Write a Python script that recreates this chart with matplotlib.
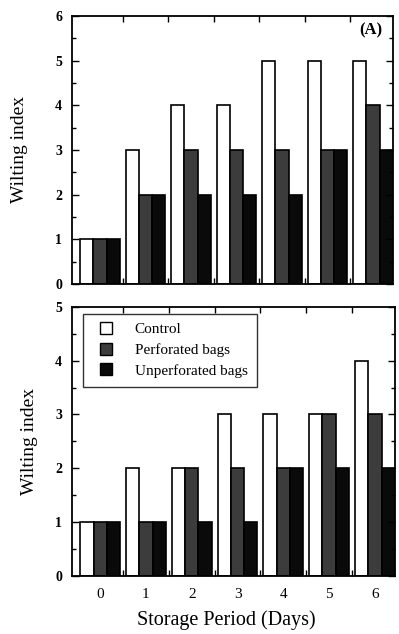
import numpy as np
import matplotlib
matplotlib.use('Agg')
import matplotlib.pyplot as plt
from matplotlib.lines import Line2D

plt.rcParams['font.family'] = ['Liberation Serif', 'DejaVu Serif']

days = [0, 1, 2, 3, 4, 5, 6]
labels = ['Control', 'Perforated bags', 'Unperforated bags']

# panel A
ctrl_a = [1, 3, 4, 4, 5, 5, 5]
perf_a = [1, 2, 3, 3, 3, 3, 4]
unperf_a = [1, 2, 2, 2, 2, 3, 3]

# panel B
ctrl_b = [1, 2, 2, 3, 3, 3, 4]
perf_b = [1, 1, 2, 2, 2, 3, 3]
unperf_b = [1, 1, 1, 1, 2, 2, 2]

colors = ['white', '#3c3c3c', '#0a0a0a']
w = 0.29
x = np.array(days)

fig = plt.figure(figsize=(3.99, 6.34), dpi=100)
ax1 = fig.add_axes([0.180, 0.552, 0.805, 0.423])
ax2 = fig.add_axes([0.180, 0.092, 0.810, 0.424])

def draw(ax, series, ymax):
    for i, s in enumerate(series):
        ax.bar(x + (i - 1) * w, s, w, color=colors[i], edgecolor='black',
               linewidth=1.2, label=labels[i])
    ax.set_xlim(-0.62, 6.44)
    ax.set_ylim(0, ymax)
    ax.set_yticks(range(ymax + 1))
    ax.set_yticks(np.arange(0.5, ymax, 1.0), minor=True)
    # ticks between the day groups, labels at the group centres
    ax.set_xticks(days)
    ax.set_xticks(np.arange(0.5, 6.0, 1.0), minor=True)
    ax.tick_params(axis='x', which='major', length=0, pad=9)
    ax.tick_params(axis='x', which='minor', direction='in', top=True,
                   bottom=True, length=4, width=1)
    ax.tick_params(axis='y', which='both', direction='in', left=True,
                   right=True, width=1, pad=7)
    ax.tick_params(axis='y', which='major', length=5)
    ax.tick_params(axis='y', which='minor', length=3)
    for sp in ax.spines.values():
        sp.set_linewidth(1.3)
    ax.set_ylabel('Wilting index', fontsize=14)
    for t in ax.get_yticklabels():
        t.set_fontweight('bold')
        t.set_fontsize(10)

draw(ax1, [ctrl_a, perf_a, unperf_a], 6)
ax1.set_xticklabels([])
ax1.yaxis.set_label_coords(-0.135, 0.5)
ax1.text(0.966, 0.975, '(A)', transform=ax1.transAxes, ha='right', va='top',
         fontsize=12, fontweight='bold')

draw(ax2, [ctrl_b, perf_b, unperf_b], 5)
ax2.yaxis.set_label_coords(-0.105, 0.5)
ax2.set_xticklabels([str(d) for d in days], fontsize=11)
ax2.set_xlabel('Storage Period (Days)', fontsize=14.5)
ax2.xaxis.set_label_coords(0.477, -0.128)

# small square swatches in the legend
handles = [Line2D([], [], ls='none', marker='s', markersize=8,
                  markerfacecolor=c, markeredgecolor='black', markeredgewidth=1.0)
           for c in colors]
leg = ax2.legend(handles, labels, loc='upper left', bbox_to_anchor=(0.034, 0.975),
                 fontsize=11, frameon=True, fancybox=False, edgecolor='black',
                 handlelength=1.9, borderpad=0.6, labelspacing=0.45,
                 handletextpad=0.9, borderaxespad=0.0)
leg.get_frame().set_linewidth(1.0)

fig.savefig('out.png', dpi=100)
